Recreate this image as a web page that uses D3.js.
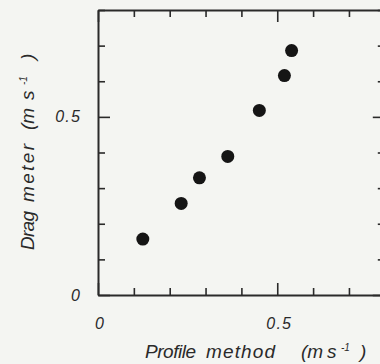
<!DOCTYPE html>
<html>
<head>
<meta charset="utf-8">
<script src="https://cdn.jsdelivr.net/npm/d3@7"></script>
<style>
  html, body { margin: 0; padding: 0; background: #f4f5f2; }
  svg { display: block; }
</style>
</head>
<body>
<svg id="mainFrame"></svg>
<script>
// profile method vs drag meter, both in m s-1
const profile = [0.125, 0.232, 0.283, 0.362, 0.450, 0.520, 0.540];
const drag = [0.157, 0.257, 0.329, 0.389, 0.518, 0.616, 0.686];
const majorTicks = [0, 0.5];
const tickLabels = ["0", "0.5"];
const allTicks = [0, 0.1, 0.2, 0.3, 0.4, 0.5, 0.6, 0.7, 0.8];
const xTitle = ["Profile", "method", "(m", "s", "-1", ")"];
const yTitle = ["Drag", "meter", "(m", "s", "-1", ")"];

const width = 380, height = 364;
const ink = "#2a2a2a";

const x = d3.scaleLinear().domain([0, 0.8]).range([98, 384.8]);
const y = d3.scaleLinear().domain([0, 0.8]).range([295, 10]);

const svg = d3.select("#mainFrame")
    .attr("width", width)
    .attr("height", height)
    .attr("font-family", "'Liberation Sans', Arial, sans-serif")
    .attr("font-style", "italic")
    .attr("fill", ink);

const isMajor = d => majorTicks.some(m => Math.abs(m - d) < 1e-9);
const tickLen = d => isMajor(d) ? 12 : 7;

function styleAxis(g, sign, horizontal) {
    g.select(".domain").attr("stroke", ink).attr("stroke-width", 2);
    g.selectAll(".tick line")
        .attr("stroke", ink)
        .attr("stroke-width", 1.6)
        .attr(horizontal ? "y2" : "x2", d => sign * tickLen(d));
    g.selectAll(".tick text").remove();
}

// bottom, top, left, right frame with inward ticks
svg.append("g").attr("transform", `translate(0,${y(0)})`)
    .call(d3.axisBottom(x).tickValues(allTicks).tickSizeOuter(0))
    .call(g => styleAxis(g, -1, true));
svg.append("g").attr("transform", `translate(0,${y(0.8)})`)
    .call(d3.axisTop(x).tickValues(allTicks).tickSizeOuter(0))
    .call(g => styleAxis(g, 1, true));
svg.append("g").attr("transform", `translate(${x(0)},0)`)
    .call(d3.axisLeft(y).tickValues(allTicks).tickSizeOuter(0))
    .call(g => styleAxis(g, 1, false));
svg.append("g").attr("transform", `translate(${x(0.8)},0)`)
    .call(d3.axisRight(y).tickValues(allTicks).tickSizeOuter(0))
    .call(g => styleAxis(g, -1, false));

// tick labels
svg.append("g").selectAll("text")
    .data(majorTicks)
    .join("text")
    .attr("x", d => x(d) + 2)
    .attr("y", 323)
    .attr("dy", "0.35em")
    .attr("text-anchor", "middle")
    .attr("font-size", 16)
    .attr("letter-spacing", 1.2)
    .text((d, i) => tickLabels[i]);

svg.append("g").selectAll("text")
    .data(majorTicks)
    .join("text")
    .attr("x", 81)
    .attr("y", d => y(d))
    .attr("dy", "0.35em")
    .attr("text-anchor", "end")
    .attr("font-size", 16)
    .attr("letter-spacing", 1.2)
    .text((d, i) => tickLabels[i]);

// points
svg.append("g").selectAll("circle")
    .data(profile)
    .join("circle")
    .attr("cx", d => x(d))
    .attr("cy", (d, i) => y(drag[i]))
    .attr("r", 6.5)
    .attr("fill", "#151515");

// axis titles: each piece pinned at its start, widths as in the scan
function title(t, words, starts, lens) {
    words.forEach((w, i) => {
        const sup = w === "-1";
        const s = t.append("tspan")
            .attr("x", starts[i])
            .attr("y", sup ? -7 : 0)
            .attr("font-size", sup ? 10 : 19)
            .text(w);
        if (lens[i]) s.attr("textLength", lens[i]).attr("lengthAdjust", "spacing");
    });
}

const xt = svg.append("text").attr("transform", "translate(145,358)");
title(xt, xTitle, [0, 61, 156, 182, 196, 215], [51, 69, 0, 0, 0, 0]);

const yt = svg.append("text").attr("transform", "translate(34,250) rotate(-90)");
title(yt, yTitle, [0, 48, 120, 150, 165, 190], [39, 58, 0, 0, 0, 0]);
</script>
</body>
</html>
